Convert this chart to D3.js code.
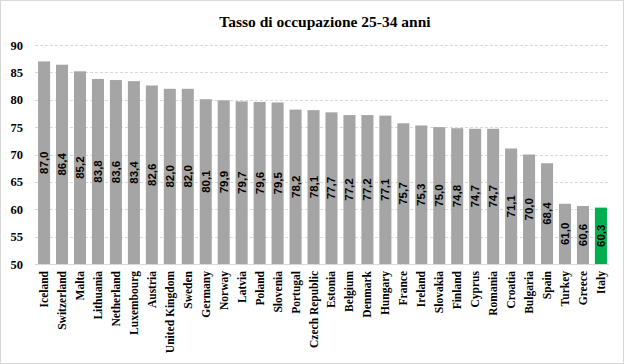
<!DOCTYPE html>
<html>
<head>
<meta charset="utf-8">
<script src="https://cdn.jsdelivr.net/npm/d3@7"></script>
<style>
	body { margin: 0; background: #fff; }
	svg { display: block; }
</style>
</head>
<body>
<svg width="624" height="364"></svg>
<script>
	var countries = ["Iceland", "Switzerland", "Malta", "Lithuania", "Netherland", "Luxembourg", "Austria",
		"United Kingdom", "Sweden", "Germany", "Norway", "Latvia", "Poland", "Slovenia", "Portugal",
		"Czech Republic", "Estonia", "Belgium", "Denmark", "Hungary", "France", "Ireland", "Slovakia",
		"Finland", "Cyprus", "Romania", "Croatia", "Bulgaria", "Spain", "Turkey", "Greece", "Italy"];
	var values = [87.0, 86.4, 85.2, 83.8, 83.6, 83.4, 82.6, 82.0, 82.0, 80.1, 79.9, 79.7, 79.6, 79.5, 78.2,
		78.1, 77.7, 77.2, 77.2, 77.1, 75.7, 75.3, 75.0, 74.8, 74.7, 74.7, 71.1, 70.0, 68.4, 61.0, 60.6, 60.3];
	var yTicks = [50, 55, 60, 65, 70, 75, 80, 85, 90];
	var highlight = "Italy";

	var data = countries.map(function(c, i) { return {country: c, value: values[i]}; });

	var svg = d3.select("svg");
	var width = +svg.attr("width");
	var height = +svg.attr("height");

	// chart frame
	svg.append("rect")
		.attr("x", 0.5).attr("y", 0.5)
		.attr("width", width - 1).attr("height", height - 1)
		.attr("fill", "#fff")
		.attr("stroke", "#d9d9d9");

	var x = d3.scaleBand()
		.domain(countries)
		.range([35, 610])
		.paddingInner(0.33)
		.paddingOuter(0.17);

	var y = d3.scaleLinear()
		.domain([50, 90])
		.range([264, 45]);

	svg.append("text")
		.attr("x", 325)
		.attr("y", 27)
		.attr("text-anchor", "middle")
		.attr("font-family", "Liberation Serif")
		.attr("font-weight", "bold")
		.attr("font-size", 15.5)
		.text("Tasso di occupazione 25-34 anni");

	// gridlines
	svg.append("g").selectAll("line")
		.data(yTicks.slice(1))
		.enter().append("line")
			.attr("x1", 35).attr("x2", 609)
			.attr("y1", function(d) { return Math.round(y(d)) + 0.5; })
			.attr("y2", function(d) { return Math.round(y(d)) + 0.5; })
			.attr("stroke", "#d9d9d9")
			.attr("stroke-dasharray", "3,2");

	var yAxis = svg.append("g")
		.attr("transform", "translate(35,0)")
		.call(d3.axisLeft(y).tickValues(yTicks).tickSize(0).tickPadding(12));
	yAxis.select(".domain").remove();
	yAxis.selectAll("text")
		.attr("font-family", "Liberation Serif")
		.attr("font-weight", "bold")
		.attr("font-size", 12.5)
		.attr("fill", "#000");

	var bars = svg.append("g").selectAll("g")
		.data(data)
		.enter().append("g");

	bars.append("rect")
		.attr("x", function(d) { return x(d.country); })
		.attr("width", x.bandwidth())
		.attr("y", function(d) { return y(d.value); })
		.attr("height", function(d) { return y(50) - y(d.value); })
		.attr("fill", function(d) { return d.country === highlight ? "#00b050" : "#a5a5a5"; });

	bars.append("text")
		.attr("transform", function(d) {
			var cx = x(d.country) + x.bandwidth() / 2;
			var cy = (y(d.value) + y(50)) / 2;
			return "translate(" + (cx + 4) + "," + cy + ") rotate(-90)";
		})
		.attr("text-anchor", "middle")
		.attr("font-family", "Liberation Sans")
		.attr("font-weight", "bold")
		.attr("font-size", 11.5)
		.attr("fill", "#000")
		.text(function(d) { return d3.format(".1f")(d.value).replace(".", ","); });

	// x axis line
	svg.append("line")
		.attr("x1", 35).attr("x2", 609)
		.attr("y1", 264.5).attr("y2", 264.5)
		.attr("stroke", "#d9d9d9");

	svg.append("g").selectAll("text")
		.data(countries)
		.enter().append("text")
			.attr("transform", function(d) {
				return "translate(" + (x(d) + x.bandwidth() / 2 + 4) + ",271) rotate(-90)";
			})
			.attr("text-anchor", "end")
			.attr("font-family", "Liberation Serif")
			.attr("font-weight", "bold")
			.attr("font-size", 11.5)
			.text(function(d) { return d; });
</script>
</body>
</html>
